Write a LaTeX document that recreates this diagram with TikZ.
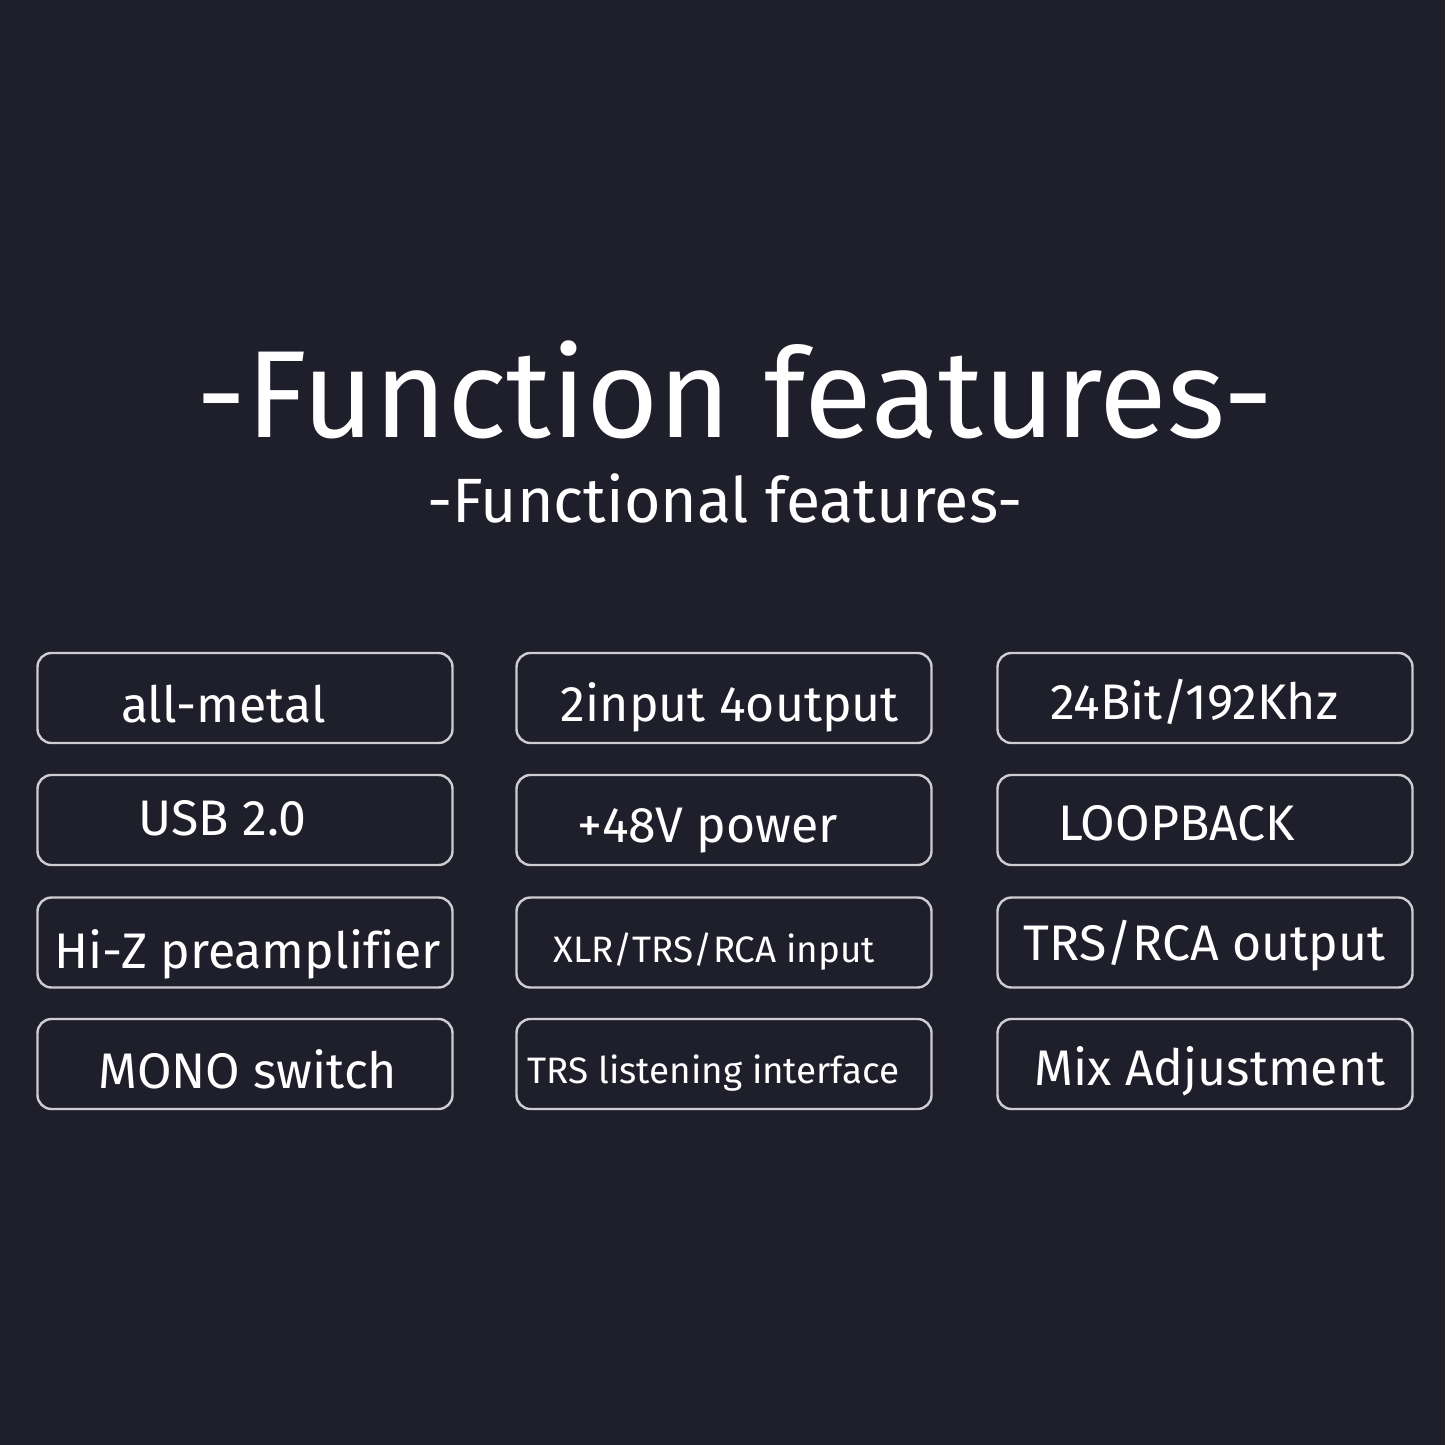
\documentclass[tikz,border=0pt]{standalone}
\usepackage{fontspec}
\setmainfont[Ligatures={NoCommon}]{Fira Sans}
\definecolor{bgc}{RGB}{31,30,43}
\definecolor{edgec}{RGB}{205,205,210}
\begin{document}
\begin{tikzpicture}[x=0.5pt,y=-0.5pt,
  fbox/.style={draw=edgec,line width=1.2pt,rounded corners=7pt,inner sep=0pt,
    minimum width=207.5pt,minimum height=45pt},
  lab/.style={text=white,anchor=base,inner sep=0pt,font=\fontsize{25}{30}\selectfont},
  labs/.style={lab,font=\fontsize{18.4}{22}\selectfont}]
\fill[bgc] (0,0) rectangle (1445,1445);
\useasboundingbox (0,0) rectangle (1445,1445);
\node[text=white,anchor=base,inner sep=0pt,font=\fontsize{62}{74}\selectfont] (title) at (735,437) {-Function features-};
\node[text=white,anchor=base,inner sep=0pt,font=\fontsize{31.3}{37}\selectfont] (sub) at (725,522) {-Functional features-};
% boxes
\node[fbox] (b11) at (245,698) {};
\node[fbox] (b12) at (724,698) {};
\node[fbox] (b13) at (1205,698) {};
\node[fbox] (b21) at (245,820) {};
\node[fbox] (b22) at (724,820) {};
\node[fbox] (b23) at (1205,820) {};
\node[fbox] (b31) at (245,942.5) {};
\node[fbox] (b32) at (724,942.5) {};
\node[fbox] (b33) at (1205,942.5) {};
\node[fbox] (b41) at (245,1064) {};
\node[fbox] (b42) at (724,1064) {};
\node[fbox] (b43) at (1205,1064) {};
% labels
\node[lab] (t11) at (223.5,722) {all-metal};
\node[lab] (t12) at (730,721) {2input 4output};
\node[lab] (t13) at (1194,719) {24Bit/192Khz};
\node[lab] (t21) at (222.5,835) {USB 2.0};
\node[lab] (t22) at (708,842) {+48V power};
\node[lab] (t23) at (1176.5,840) {LOOPBACK};
\node[lab] (t31) at (247.5,968) {Hi-Z preamplifier};
\node[labs] (t32) at (714,962) {XLR/TRS/RCA input};
\node[lab] (t33) at (1204.5,960) {TRS/RCA output};
\node[lab] (t41) at (248,1088) {MONO switch};
\node[labs] (t42) at (713.5,1083) {TRS listening interface};
\node[lab] (t43) at (1210,1085) {Mix Adjustment};
\end{tikzpicture}
\end{document}
